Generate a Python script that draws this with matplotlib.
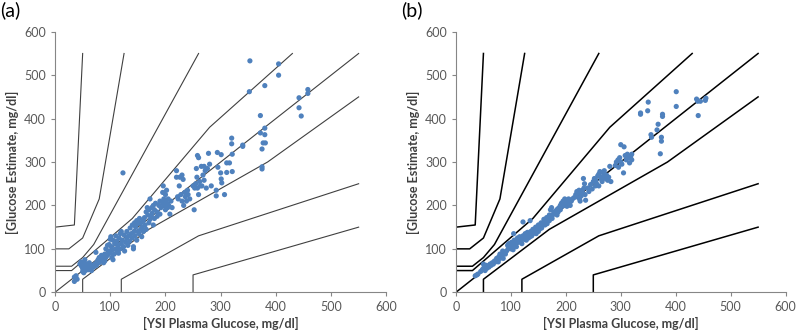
import numpy as np
import matplotlib
matplotlib.use('Agg')
import matplotlib.pyplot as plt

plt.rcParams['font.family'] = ['Lato', 'DejaVu Sans']

# Parkes (consensus) error grid zone boundaries, type 1
GRID_LINES = [
    [(0, 0), (550, 550)],
    [(0, 50), (30, 50), (140, 170), (280, 380), (430, 550)],
    [(50, 0), (50, 30), (170, 145), (385, 300), (550, 450)],
    [(0, 60), (30, 60), (50, 80), (70, 110), (260, 550)],
    [(120, 0), (120, 30), (260, 130), (550, 250)],
    [(0, 100), (25, 100), (50, 125), (80, 215), (125, 550)],
    [(250, 0), (250, 40), (550, 150)],
    [(0, 150), (35, 155), (50, 550)],
]

# panel (a) reference vs estimate
ref_a = [35, 35, 38, 40, 45, 47, 48, 50, 50, 52, 52, 53, 54, 55, 55, 56, 57, 58, 60, 60,
         62, 63, 65, 66, 68, 70, 72, 74, 75, 76, 78, 80, 80, 82, 84, 85, 86, 88, 90, 90,
         92, 92, 95, 95, 97, 98, 100, 100, 101, 102, 103, 104, 105, 105, 107, 108, 110, 110,
         112, 112, 114, 115, 116, 118, 118, 120, 120, 122, 123, 124, 125, 126, 128, 130, 130,
         132, 133, 135, 136, 138, 140, 140, 142, 142, 143, 144, 145, 146, 148, 148, 150, 150,
         152, 153, 155, 155, 157, 158, 160, 160, 162, 163, 165, 165, 167, 168, 170, 170, 172,
         172, 174, 175, 176, 178, 178, 180, 180, 182, 185, 185, 188, 190, 190, 192, 195, 195,
         196, 197, 198, 200, 200, 200, 202, 203, 204, 205, 206, 208, 210, 212, 220, 220, 222,
         223, 225, 226, 228, 230, 230, 232, 233, 235, 236, 238, 240, 241, 244, 250, 252, 253,
         255, 256, 257, 258, 260, 258, 260, 262, 263, 265, 266, 268, 270, 270, 272, 274, 276,
         278, 280, 283, 292, 292, 294, 295, 300, 301, 302, 301, 307, 311, 311, 316, 320, 320,
         321, 321, 340, 340, 352, 353, 375, 375, 372, 372, 375, 377, 381, 380, 380, 380, 405,
         405, 442, 442, 446, 458, 458]
est_a = [25, 35, 38, 30, 65, 70, 60, 55, 48, 45, 58, 68, 75, 50, 62, 55, 65, 58, 52, 60,
         68, 56, 60, 50, 62, 58, 65, 92, 62, 70, 75, 68, 80, 72, 85, 75, 78, 68, 72, 88,
         80, 100, 108, 85, 95, 110, 90, 122, 128, 105, 80, 98, 120, 75, 88, 112, 100, 130,
         118, 95, 108, 90, 125, 135, 100, 112, 140, 120, 275, 105, 132, 95, 115, 125, 140,
         108, 130, 118, 148, 135, 155, 125, 105, 100, 140, 160, 130, 150, 165, 120, 140, 158,
         135, 170, 145, 160, 128, 150, 140, 165, 172, 155, 185, 145, 195, 178, 160, 190, 215,
         168, 175, 195, 182, 200, 155, 190, 170, 205, 185, 175, 200, 210, 180, 195, 230, 205,
         245, 215, 200, 225, 210, 190, 235, 205, 195, 215, 200, 180, 210, 195, 280, 265, 220,
         215, 245, 265, 225, 210, 270, 260, 200, 230, 220, 210, 235, 225, 215, 245, 190, 240,
         250, 285, 265, 315, 310, 240, 225, 255, 245, 290, 245, 270, 290, 258, 280, 240, 285,
         320, 295, 245, 222, 235, 322, 288, 275, 261, 252, 317, 225, 298, 276, 298, 355, 342,
         318, 278, 339, 336, 462, 533, 289, 284, 407, 367, 330, 344, 344, 378, 363, 476, 526,
         500, 448, 425, 406, 467, 458]

# panel (b) reference vs estimate
ref_b = [35, 38, 40, 45, 48, 50, 50, 52, 53, 55, 56, 58, 60, 62, 64, 66, 68, 70, 72, 74,
         75, 77, 78, 80, 80, 82, 84, 85, 86, 88, 90, 92, 94, 95, 96, 98, 100, 100, 101, 102,
         105, 122, 135, 104, 105, 106, 108, 110, 110, 112, 114, 115, 116, 118, 120, 120, 122,
         124, 125, 126, 128, 130, 130, 132, 134, 135, 136, 138, 140, 140, 142, 144, 145, 146,
         148, 150, 150, 152, 154, 155, 156, 158, 160, 160, 162, 164, 165, 166, 168, 170, 170,
         172, 174, 175, 176, 178, 180, 182, 184, 185, 186, 188, 190, 190, 192, 194, 195, 196,
         198, 198, 200, 200, 202, 204, 205, 206, 208, 210, 212, 215, 218, 220, 220, 222, 224,
         225, 226, 228, 230, 230, 232, 233, 234, 235, 236, 240, 242, 245, 248, 250, 252, 254,
         255, 256, 258, 260, 260, 262, 264, 265, 266, 268, 270, 270, 272, 274, 276, 278, 280,
         282, 290, 292, 295, 296, 298, 300, 300, 302, 305, 306, 308, 310, 312, 314, 316, 318,
         320, 320, 336, 336, 349, 350, 355, 356, 366, 368, 372, 374, 374, 376, 376, 401, 401,
         438, 440, 441, 445, 454, 455]
est_b = [38, 40, 42, 48, 52, 55, 65, 58, 50, 62, 55, 60, 58, 65, 62, 68, 65, 72, 70, 78,
         75, 70, 82, 78, 88, 80, 85, 95, 78, 92, 88, 95, 108, 100, 112, 105, 100, 110, 115, 104,
         135, 162, 165, 98, 108, 120, 112, 105, 118, 125, 115, 120, 128, 118, 125, 112, 130,
         122, 128, 135, 120, 130, 138, 125, 135, 128, 140, 130, 135, 145, 138, 142, 150, 135,
         148, 140, 155, 145, 150, 160, 148, 155, 160, 168, 155, 165, 172, 158, 170, 165, 178,
         190, 195, 170, 178, 185, 182, 188, 178, 192, 185, 195, 190, 200, 205, 198, 210, 208,
         215, 200, 205, 212, 198, 210, 215, 205, 200, 210, 215, 218, 225, 232, 220, 228, 235,
         215, 210, 222, 235, 228, 262, 240, 250, 225, 212, 240, 232, 248, 238, 255, 262, 245,
         258, 250, 268, 272, 245, 278, 265, 260, 255, 275, 280, 268, 262, 270, 258, 265, 290,
         255, 292, 300, 305, 288, 310, 340, 300, 295, 275, 335, 315, 305, 318, 310, 298, 312,
         318, 305, 413, 410, 418, 438, 363, 357, 374, 387, 319, 357, 348, 410, 405, 462, 428,
         445, 440, 407, 440, 442, 447]

panels = [('(a)', ref_a, est_a, '#404040', 0.8), ('(b)', ref_b, est_b, 'black', 1.1)]
boxes = [[0.069, 0.117, 0.415, 0.787], [0.5714, 0.117, 0.413, 0.787]]

fig = plt.figure(figsize=(7.98, 3.31), dpi=100)

for (tag, ref, est, lc, lw), box in zip(panels, boxes):
    ax = fig.add_axes(box)
    for seg in GRID_LINES:
        xs, ys = zip(*seg)
        ax.plot(xs, ys, color=lc, lw=lw, zorder=2)
    ax.scatter(ref, est, s=14, color='#4F81BD', edgecolors='none', zorder=3)
    ax.set_xlim(0, 600)
    ax.set_ylim(0, 600)
    ax.set_xticks(np.arange(0, 601, 100))
    ax.set_yticks(np.arange(0, 601, 100))
    for side in ['top', 'right']:
        ax.spines[side].set_visible(False)
    for side in ['left', 'bottom']:
        ax.spines[side].set_color('#868686')
        ax.spines[side].set_linewidth(0.8)
    ax.tick_params(axis='both', colors='#868686', labelcolor='#595959',
                   labelsize=9, length=3, width=0.8)
    ax.set_xlabel('[YSI Plasma Glucose, mg/dl]', fontsize=9, fontweight='bold',
                  color='#404040', labelpad=3)
    ax.set_ylabel('[Glucose Estimate, mg/dl]', fontsize=9, fontweight='bold',
                  color='#404040', labelpad=4)
    fig.text(box[0] - 0.069, 0.995, tag, fontsize=14, va='top', ha='left', color='black')

fig.savefig('out.png', dpi=100)
